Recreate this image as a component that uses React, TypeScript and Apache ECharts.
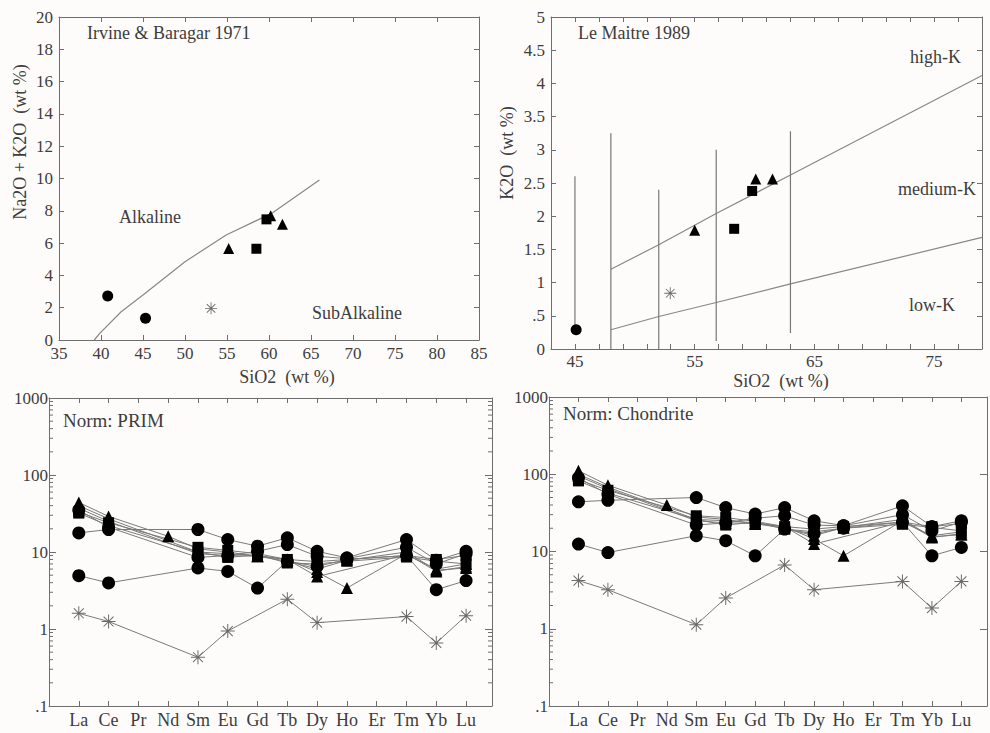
import React, { useEffect, useRef } from 'react';
import * as echarts from 'echarts';

const FONT = 'Liberation Serif';
const TEXT = '#3d3d3d';
const AXIS = '#6e6e6e';
const LINE = '#7a7a7a';
const MARK = '#000000';
const STARC = '#6a6a6a';
const STAR = 'path://M0 9.3H20V10.7H0Z M9.3 0H10.7V20H9.3Z M3.4 2.4L17.6 16.6L16.6 17.6L2.4 3.4Z M17.6 3.4L3.4 17.6L2.4 16.6L16.6 2.4Z';

// ---- TAS (Irvine & Baragar 1971) ----
const tasCircles = [[40.8, 2.72], [45.3, 1.34]];
const tasSquares = [[58.5, 5.65], [59.7, 7.47]];
const tasTriangles = [[55.2, 5.67], [60.2, 7.7], [61.6, 7.16]];
const tasStars = [[53.1, 1.96]];
const alkalineDivide = [[39.2, 0], [39.85, 0.41], [42.4, 1.75], [45, 2.79], [50, 4.85], [54.9, 6.5], [60.3, 7.84], [66, 9.9]];

// ---- K2O vs SiO2 (Le Maitre 1989) ----
const kCircles = [[45.1, 0.29]];
const kStars = [[52.96, 0.84]];
const kTriangles = [[55.0, 1.79], [60.1, 2.56], [61.5, 2.56]];
const kSquares = [[58.3, 1.81], [59.8, 2.38]];
const highKLine = [[48, 1.2], [52, 1.57], [56.8, 2.04], [63, 2.62], [79, 4.12]];
const lowKLine = [[48, 0.29], [52, 0.49], [56.8, 0.7], [63, 0.98], [79, 1.68]];
const fieldDividers = [[45, 0.3, 2.6], [48, 0, 3.25], [52, 0, 2.4], [56.8, 0.12, 3.0], [63, 0.24, 3.28]];

// ---- REE spider diagrams ----
const ree = ['La', 'Ce', 'Pr', 'Nd', 'Sm', 'Eu', 'Gd', 'Tb', 'Dy', 'Ho', 'Er', 'Tm', 'Yb', 'Lu'];
const logMinorTicks = [0.2, 0.3, 0.4, 0.5, 0.6, 0.7, 0.8, 0.9, 2, 3, 4, 5, 6, 7, 8, 9, 20, 30, 40, 50, 60, 70, 80, 90, 200, 300, 400, 500, 600, 700, 800, 900];

const primCircleHigh = [17.7, 19.6, null, null, 19.6, 14.5, 11.9, 15.3, 10.2, 8.4, null, 14.5, 7.8, 10.2];
const primCircleLow = [4.93, 3.97, null, null, 6.2, 5.6, 3.4, 7.6, 6.5, 8.0, null, 9.0, 3.24, 4.25];
const primCircleMid = [35, 21, null, null, 8.5, 9.0, 10.2, 12.5, 8.8, 8.2, null, 11.5, 7.0, 9.5];
const primTriangleA = [44, 29, null, 16, 11, 10, 8.8, 8.0, 5.5, 3.4, null, 9.5, 5.6, 6.5];
const primTriangleB = [40, 27, null, null, 10, 9.5, 9.0, 8.0, 4.8, null, null, 9.2, 6.0, 7.0];
const primTriangleC = [37, 25, null, null, 9.5, 9.0, 8.8, 7.6, 6.0, 7.8, null, 10.0, 5.8, 6.2];
const primSquareA = [33, 24, null, null, 11.5, 10.5, 9.5, 8.0, 7.5, 8.0, null, 9.0, 8.0, 9.0];
const primSquareB = [32, 22, null, null, 10, 8.5, 9.2, 7.2, 7.0, 7.6, null, 8.6, 7.6, 7.0];
const primStar = [1.6, 1.25, null, null, 0.43, 0.94, null, 2.44, 1.21, null, null, 1.45, 0.66, 1.49];

const chCircleHigh = [44, 46, null, null, 50, 37, 30.5, 37, 25, 21.6, null, 39, 21, 25];
const chCircleLow = [12.5, 9.7, null, null, 16, 13.8, 8.8, 19.5, 17, 20, null, 24, 8.8, 11.3];
const chCircleMid = [90, 55, null, null, 22, 23.5, 27, 29, 22, 21.5, null, 30, 18.5, 24];
const chTriangleA = [111, 72, null, 40, 28, 26, 22.7, 21, 14.5, 8.8, null, 25, 15.2, 17];
const chTriangleB = [100, 68, null, null, 26, 25, 23.5, 21, 12.5, null, null, 24, 16, 18];
const chTriangleC = [95, 65, null, null, 25, 23.5, 23, 20, 16, 20.5, null, 26, 15.5, 16.5];
const chSquareA = [85, 62, null, null, 29, 27.5, 24.5, 21, 19.5, 21, null, 24, 21, 23];
const chSquareB = [82, 57, null, null, 26, 22, 24, 19.5, 18, 20, null, 22.5, 20.5, 18.5];
const chStar = [4.2, 3.2, null, null, 1.13, 2.5, null, 6.7, 3.2, null, null, 4.1, 1.85, 4.1];

const REE_MAX = 14.87;

function spider(vals: (number | null)[]) {
  const out: number[][] = [];
  vals.forEach((v, i) => { if (v != null) out.push([i + 1, v]); });
  return out;
}

function linAxes(grid: number, min: number, max: number, interval: number, fmt: (v: number) => string, size: number, margin: number, isX: boolean) {
  const base: any = {
    type: 'value', gridIndex: grid, min, max, interval,
    axisLine: { show: true, onZero: false, lineStyle: { color: AXIS, width: 1 } },
    axisTick: { show: true, inside: true, length: 5, lineStyle: { color: AXIS } },
    splitLine: { show: false },
  };
  const main = { ...base, position: isX ? 'bottom' : 'left', axisLabel: { formatter: fmt, fontFamily: FONT, fontSize: size, color: TEXT, margin } };
  const mirror = { ...base, position: isX ? 'top' : 'right', axisLabel: { show: false } };
  return [main, mirror];
}

function logAxes(grid: number, rightTicks: boolean) {
  const base: any = {
    type: 'log', logBase: 10, gridIndex: grid, min: 0.1, max: 1000,
    axisLine: { show: true, onZero: false, lineStyle: { color: AXIS, width: 1 } },
    axisTick: { show: true, inside: true, length: 7, lineStyle: { color: AXIS } },
    splitLine: { show: false },
  };
  const main = {
    ...base, position: 'left',
    axisLabel: { formatter: (v: number) => (v < 0.5 ? '.1' : String(Math.round(v))), fontFamily: FONT, fontSize: 17, color: TEXT, margin: 1 },
  };
  const mirror = { ...base, position: 'right', axisTick: { ...base.axisTick, show: rightTicks }, axisLabel: { show: false } };
  return [main, mirror];
}

function scatter(grid: number, data: number[][], symbol: string, size: number, color = MARK) {
  return { type: 'scatter', xAxisIndex: grid * 2, yAxisIndex: grid * 2, data, symbol, symbolSize: size, itemStyle: { color, opacity: 1 }, z: 5 };
}

function spiderSeries(grid: number, vals: (number | null)[], symbol: string, size: number, color = MARK) {
  return {
    type: 'line', xAxisIndex: grid * 2, yAxisIndex: grid * 2, data: spider(vals), symbol, symbolSize: size,
    showSymbol: true, lineStyle: { color: LINE, width: 1 }, itemStyle: { color, opacity: 1 }, z: 3,
  };
}

function minorTicks(grid: number, x: number, dir: number) {
  return {
    type: 'scatter', xAxisIndex: grid * 2, yAxisIndex: grid * 2, silent: true,
    data: logMinorTicks.map((v) => [x, v]), symbol: 'rect', symbolSize: [4, 1], symbolOffset: [2 * dir, 0],
    itemStyle: { color: AXIS, opacity: 1 }, z: 2,
  };
}

function text(x: number, y: number, t: string, size: number, align = 'left', rotation = 0) {
  return {
    type: 'text', x, y, rotation,
    style: { text: t, font: `${size}px "Liberation Serif"`, fontFamily: FONT, fontSize: size, fill: TEXT, align, verticalAlign: 'middle' },
  };
}

export default function App() {
  const ref = useRef<HTMLDivElement>(null);
  useEffect(() => {
    if (!ref.current) return;
    const chart = echarts.init(ref.current, null, { renderer: 'svg' });
    const reeFmt = (v: number) => (Number.isInteger(v) && v >= 1 && v <= 14 ? ree[v - 1] : '');
    const option: any = {
      animation: false,
      backgroundColor: '#fdfcfa',
      textStyle: { fontFamily: FONT },
      grid: [
        { left: 59, top: 17, width: 420, height: 323 },
        { left: 551, top: 17, width: 431, height: 332 },
        { left: 49, top: 398, width: 443, height: 308 },
        { left: 549, top: 397, width: 442, height: 309 },
      ],
      xAxis: [
        ...linAxes(0, 35, 85, 5, (v) => String(v), 17, 5, true),
        ...linAxes(1, 43, 79, 2, (v) => ((Math.round(v) - 45) % 10 === 0 ? String(Math.round(v)) : ''), 17, 4, true),
        ...linAxes(2, 0, REE_MAX, 1, reeFmt, 18, 5, true),
        ...linAxes(3, 0, REE_MAX, 1, reeFmt, 18, 5, true),
      ],
      yAxis: [
        ...linAxes(0, 0, 20, 2, (v) => String(v), 17, 6, false),
        ...linAxes(1, 0, 5, 0.5, (v) => (v === 0.5 ? '.5' : String(v)), 17, 6, false),
        ...logAxes(2, true),
        ...logAxes(3, true),
      ],
      series: [
        // TAS
        { type: 'line', xAxisIndex: 0, yAxisIndex: 0, data: alkalineDivide, showSymbol: false, symbol: 'none', lineStyle: { color: '#888', width: 1.2 } },
        scatter(0, tasCircles, 'circle', 11),
        scatter(0, tasSquares, 'rect', 10),
        scatter(0, tasTriangles, 'triangle', 11),
        scatter(0, tasStars, STAR, 12, STARC),
        // K2O
        { type: 'line', xAxisIndex: 2, yAxisIndex: 2, data: highKLine, showSymbol: false, symbol: 'none', lineStyle: { color: '#888', width: 1.2 } },
        { type: 'line', xAxisIndex: 2, yAxisIndex: 2, data: lowKLine, showSymbol: false, symbol: 'none', lineStyle: { color: '#888', width: 1.2 } },
        ...fieldDividers.map((d) => ({
          type: 'line', xAxisIndex: 2, yAxisIndex: 2, data: [[d[0], d[1]], [d[0], d[2]]], showSymbol: false, symbol: 'none',
          lineStyle: { color: '#777', width: 1.2 },
        })),
        scatter(1, kCircles, 'circle', 11),
        scatter(1, kSquares, 'rect', 10),
        scatter(1, kTriangles, 'triangle', 11),
        scatter(1, kStars, STAR, 12, STARC),
        // PRIM
        spiderSeries(2, primStar, STAR, 14, STARC),
        spiderSeries(2, primCircleLow, 'circle', 13),
        spiderSeries(2, primCircleMid, 'circle', 13),
        spiderSeries(2, primCircleHigh, 'circle', 13),
        spiderSeries(2, primSquareB, 'rect', 11),
        spiderSeries(2, primSquareA, 'rect', 11),
        spiderSeries(2, primTriangleC, 'triangle', 12),
        spiderSeries(2, primTriangleB, 'triangle', 12),
        spiderSeries(2, primTriangleA, 'triangle', 12),
        minorTicks(2, 0, 1),
        minorTicks(2, REE_MAX, -1),
        // Chondrite
        spiderSeries(3, chStar, STAR, 14, STARC),
        spiderSeries(3, chCircleLow, 'circle', 13),
        spiderSeries(3, chCircleMid, 'circle', 13),
        spiderSeries(3, chCircleHigh, 'circle', 13),
        spiderSeries(3, chSquareB, 'rect', 11),
        spiderSeries(3, chSquareA, 'rect', 11),
        spiderSeries(3, chTriangleC, 'triangle', 12),
        spiderSeries(3, chTriangleB, 'triangle', 12),
        spiderSeries(3, chTriangleA, 'triangle', 12),
        minorTicks(3, 0, 1),
      ],
      graphic: [
        text(87, 33, 'Irvine & Baragar 1971', 18),
        text(119, 217, 'Alkaline', 18),
        text(312, 313, 'SubAlkaline', 18),
        text(20, 142, 'Na2O + K2O  (wt %)', 18, 'center', Math.PI / 2),
        text(287, 377, 'SiO2  (wt %)', 18, 'center'),
        text(578, 33, 'Le Maitre 1989', 18),
        text(910, 57, 'high-K', 18),
        text(898, 189, 'medium-K', 18),
        text(909, 305, 'low-K', 18),
        text(507, 153, 'K2O  (wt %)', 18, 'center', Math.PI / 2),
        text(781, 381, 'SiO2  (wt %)', 18, 'center'),
        text(63, 420, 'Norm: PRIM', 19),
        text(563, 413, 'Norm: Chondrite', 19),
      ],
    };
    chart.setOption(option);
    return () => chart.dispose();
  }, []);
  return <div ref={ref} style={{ position: 'absolute', left: 0, top: 0, width: 990, height: 733 }} />;
}
